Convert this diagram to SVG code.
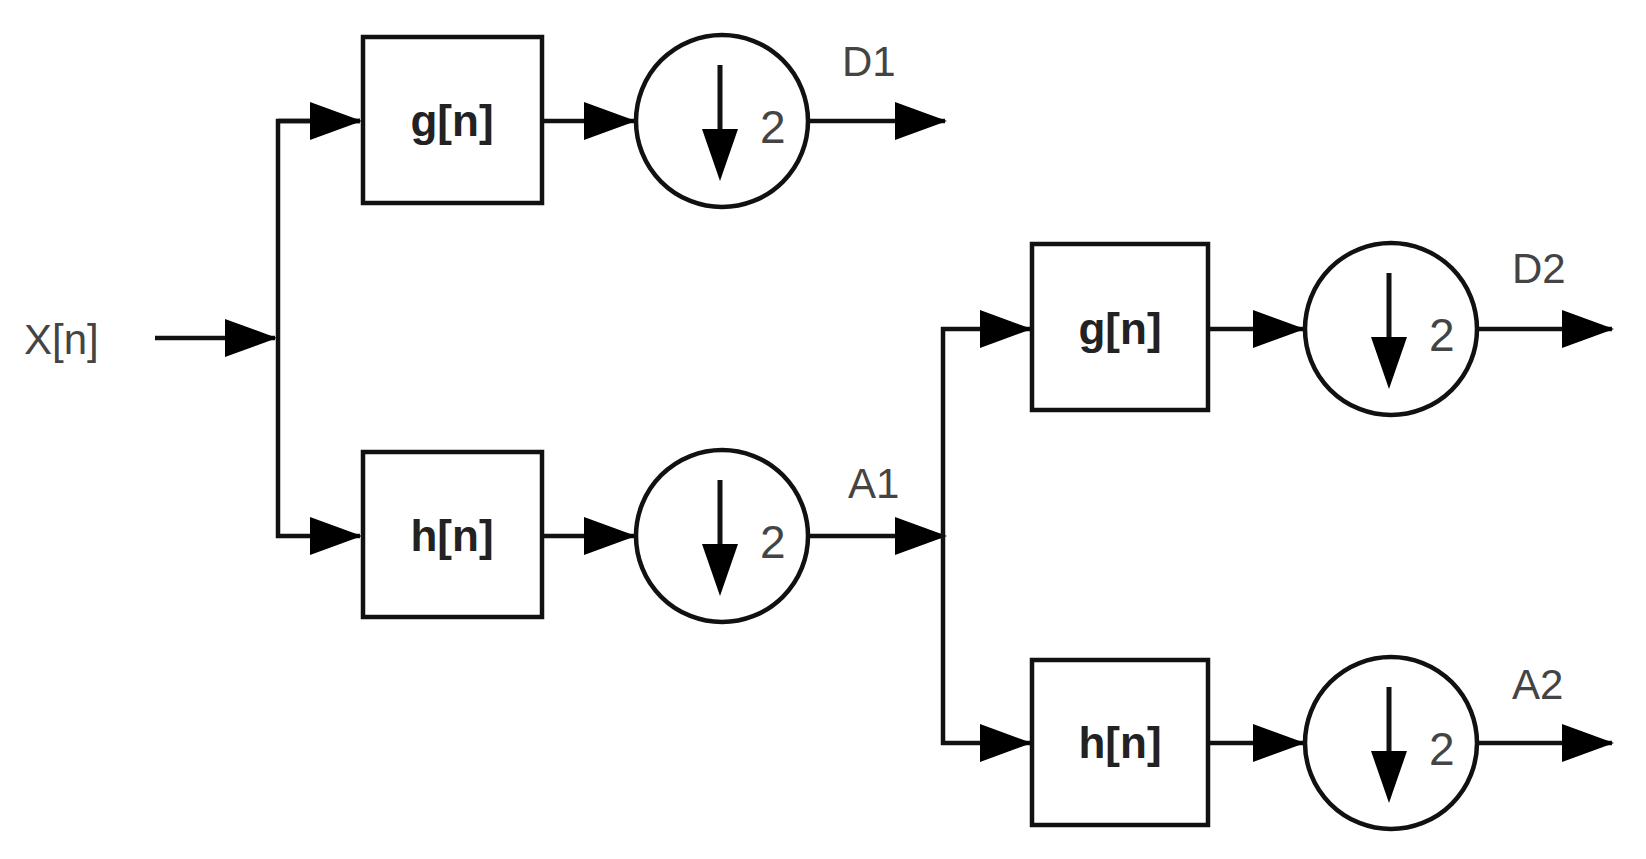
<svg xmlns="http://www.w3.org/2000/svg" width="1646" height="859" viewBox="0 0 1646 859">
<style>
.box{fill:#fff;stroke:#111;stroke-width:4.5}
.c{fill:#fff;stroke:#111;stroke-width:4.5}
.w{stroke:#111;stroke-width:4.5;fill:none}
.bt{font-family:"Liberation Sans",Arial,sans-serif;font-size:44px;font-weight:bold;fill:#222;text-anchor:middle}
.lt{font-family:"Liberation Sans",Arial,sans-serif;font-size:42px;fill:#444}
</style>
<defs>
<marker id="ah" markerUnits="userSpaceOnUse" markerWidth="52" markerHeight="38" refX="50" refY="19" orient="auto"><path d="M0,0 L52,19 L0,38 Z" fill="#000"/></marker>
<g id="ds"><circle class="c" cx="0" cy="0" r="86"/><line x1="-2" y1="-56" x2="-2" y2="10" stroke="#111" stroke-width="5"/><path d="M-20,8 L16,8 L-2,60 Z" fill="#000"/><text class="lt" x="38" y="22" style="font-size:46px">2</text></g>
</defs>
<g id="connectors" class="w">
<line x1="155" y1="338" x2="275" y2="338" marker-end="url(#ah)"/>
<polyline points="360,121 278,121 278,536 360,536" marker-end="url(#ah)"/>
<line x1="278" y1="121" x2="360" y2="121" marker-end="url(#ah)"/>
<line x1="542" y1="121" x2="634" y2="121" marker-end="url(#ah)"/>
<line x1="542" y1="536" x2="634" y2="536" marker-end="url(#ah)"/>
<line x1="810" y1="121" x2="945" y2="121" marker-end="url(#ah)"/>
<line x1="810" y1="536" x2="945" y2="536" marker-end="url(#ah)"/>
<polyline points="943,536 943,329 1030,329" marker-end="url(#ah)"/>
<polyline points="943,536 943,743 1030,743" marker-end="url(#ah)"/>
<line x1="1208" y1="329" x2="1303" y2="329" marker-end="url(#ah)"/>
<line x1="1208" y1="743" x2="1303" y2="743" marker-end="url(#ah)"/>
<line x1="1479" y1="329" x2="1612" y2="329" marker-end="url(#ah)"/>
<line x1="1479" y1="743" x2="1612" y2="743" marker-end="url(#ah)"/>
</g>
<g id="x"><text class="lt" x="24" y="354">X[n]</text></g>
<g id="g1"><rect class="box" x="363" y="37" width="179" height="166"/><text class="bt" x="452" y="136">g[n]</text></g>
<g id="h1"><rect class="box" x="363" y="452" width="179" height="165"/><text class="bt" x="452" y="551">h[n]</text></g>
<g id="d1"><use href="#ds" x="722" y="121"/></g>
<g id="a1"><use href="#ds" x="722" y="536"/></g>
<g id="g2"><rect class="box" x="1032" y="244" width="176" height="166"/><text class="bt" x="1120" y="344">g[n]</text></g>
<g id="h2"><rect class="box" x="1032" y="660" width="176" height="165"/><text class="bt" x="1120" y="758">h[n]</text></g>
<g id="d2"><use href="#ds" x="1391" y="329"/></g>
<g id="a2"><use href="#ds" x="1391" y="743"/></g>
<text class="lt" x="842" y="76">D1</text>
<text class="lt" x="848" y="498">A1</text>
<text class="lt" x="1512" y="283">D2</text>
<text class="lt" x="1512" y="699">A2</text>
</svg>
